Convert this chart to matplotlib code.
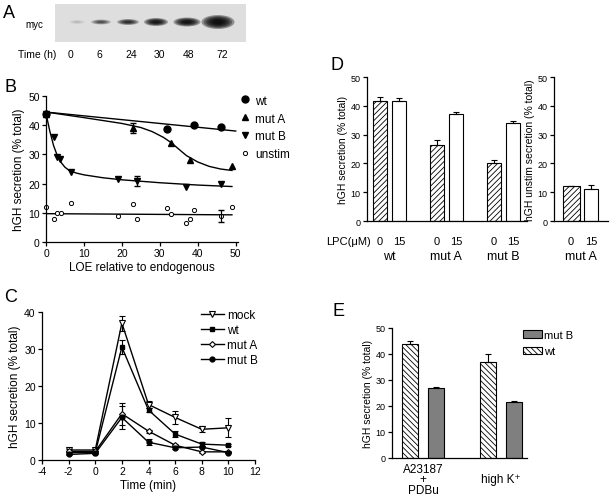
import numpy as np
import matplotlib.pyplot as plt
import matplotlib.transforms as mtransforms
from matplotlib.patches import Ellipse, Rectangle, Patch
from matplotlib.lines import Line2D

plt.rcParams['font.family'] = ['Liberation Sans', 'DejaVu Sans']
plt.rcParams['hatch.linewidth'] = 0.6
plt.rcParams['axes.linewidth'] = 0.9
plt.rcParams['axes.unicode_minus'] = False

# ---- A: blot ----
blot_times = ['0', '6', '24', '30', '48', '72']
band_level = [0.08, 0.45, 0.65, 0.85, 0.9, 1.0]

# ---- B: secretion vs level of expression ----
b_wt_x = [0, 32, 39, 46]
b_wt_y = [44, 38.7, 40, 39.3]
b_mutA_x = [0, 23, 33, 38, 49]
b_mutA_y = [44, 39, 34, 28, 26]
b_mutB_x = [0, 2, 2.8, 3.6, 6.5, 19, 24, 37, 46]
b_mutB_y = [44, 36, 29, 28.5, 24, 21.5, 21, 19, 20]
b_unst_x = [0, 2, 3, 4, 6.5, 19, 23, 24, 32, 33, 37, 38, 39, 46, 49]
b_unst_y = [12, 8, 10, 10, 13.5, 9, 13, 8, 11.5, 9.5, 6.5, 8, 11, 8.8, 12]
# fitted curves
fit_wt_x = [0, 50]
fit_wt_y = [44.5, 38]
fit_mutA_x = [0, 10, 20, 25, 28, 31, 33, 35, 37, 40, 43, 46, 49]
fit_mutA_y = [44.5, 42.6, 40.6, 39.2, 37.8, 35.8, 34, 31.8, 29.6, 27.4, 25.9, 25, 24.5]
fit_mutB_x = [0, 1, 2, 3, 4, 5, 6, 8, 10, 15, 20, 30, 40, 49]
fit_mutB_y = [44, 38, 33, 29.5, 27.2, 25.6, 24.6, 23.6, 23, 22, 21.3, 20.3, 19.5, 19]
fit_unst_x = [0, 49]
fit_unst_y = [9.7, 9.3]

# ---- C: time course ----
c_t = [-2, 0, 2, 4, 6, 8, 10]
c_mock = [2.7, 2.7, 37, 15, 11.5, 8.3, 8.7]
c_mock_err = [0.3, 0.3, 2, 1, 1.8, 0.8, 2.6]
c_wt = [2, 2, 30.5, 13.5, 7, 4.3, 4]
c_wt_err = [0.2, 0.2, 1.8, 0.5, 0.8, 0.5, 0.2]
c_mutA = [2.3, 2.3, 12.5, 7.8, 4, 2.2, 2.2]
c_mutA_err = [0.2, 0.2, 3, 0.4, 0.3, 0.3, 0.3]
c_mutB = [1.5, 1.8, 11.5, 4.8, 3.3, 3.5, 2]
c_mutB_err = [0.2, 0.2, 3, 0.8, 0.4, 0.3, 0.2]

# ---- D: LPC ----
d_groups = ['wt', 'mut A', 'mut B']
d_lpc = ['0', '15']
d_0 = [41.5, 26.3, 20.3]
d_0_err = [1.5, 1.8, 1.0]
d_15 = [41.8, 37, 34.2]
d_15_err = [1.0, 0.8, 0.5]
d_unst = [12, 11.2]
d_unst_err = [0.3, 1.3]

# ---- E: stimuli ----
e_stim = ['A23187\n+\nPDBu', 'high K\u207a']
e_wt = [43.7, 37]
e_wt_err = [1.3, 3]
e_mutB = [27, 21.5]
e_mutB_err = [0.3, 0.3]

W, H = 610, 502
fig = plt.figure(figsize=(6.1, 5.02), dpi=100)


def box(l, t, r, b):
    return [l / W, 1 - b / H, (r - l) / W, (b - t) / H]


def ftext(x, y, s, **kw):
    fig.text(x / W, 1 - y / H, s, **kw)


def style(ax, fs):
    for s in ['top', 'right']:
        ax.spines[s].set_visible(False)
    ax.tick_params(labelsize=fs, width=0.9, length=3, pad=1.5)


# panel A
axA = fig.add_axes(box(55, 5, 246, 43))
axA.set_xlim(55, 246)
axA.set_ylim(43, 5)
axA.axis('off')
axA.add_patch(Rectangle((55, 5), 191, 38, color='#dedede', lw=0))
lane_x = [77, 101, 128, 156, 187, 218]
band_w = [16, 20, 22, 24, 27, 33]
band_h = [4, 5, 6, 8, 9, 14]
for k in range(len(blot_times)):
    for s in np.linspace(1, 0.3, 6):
        axA.add_patch(Ellipse((lane_x[k], 23), band_w[k] * s, band_h[k] * s,
                              color='black', alpha=band_level[k] * 0.35, lw=0))
ftext(3, 14, 'A', fontsize=13, va='center')
ftext(25, 25, 'myc', fontsize=7, va='center')
ftext(18, 55, 'Time (h)', fontsize=7.5, va='center')
for k, t in enumerate(blot_times):
    ftext([71, 99, 131, 159, 189, 222][k], 55, t, fontsize=7.5, va='center', ha='center')

# panel B
axB = fig.add_axes(box(46, 97, 238, 243))
style(axB, 7.5)
axB.set_xlim(0, 50.6)
axB.set_ylim(0, 50)
axB.set_xticks(range(0, 51, 10))
axB.set_yticks(range(0, 51, 10))
for fx, fy in [(fit_wt_x, fit_wt_y), (fit_mutA_x, fit_mutA_y),
               (fit_mutB_x, fit_mutB_y), (fit_unst_x, fit_unst_y)]:
    axB.plot(fx, fy, color='black', lw=1)
h1, = axB.plot(b_wt_x, b_wt_y, 'o', color='black', ms=5, clip_on=False, label='wt')
h2, = axB.plot(b_mutA_x, b_mutA_y, '^', color='black', ms=5, clip_on=False, label='mut A')
h3, = axB.plot(b_mutB_x, b_mutB_y, 'v', color='black', ms=5, clip_on=False, label='mut B')
h4, = axB.plot(b_unst_x, b_unst_y, 'o', mfc='white', mec='black', mew=0.7, ms=3,
               clip_on=False, label='unstim')
axB.errorbar([23], [39], yerr=[1.6], fmt='none', ecolor='black', elinewidth=0.9, capsize=2.5)
axB.errorbar([24], [21], yerr=[1.7], fmt='none', ecolor='black', elinewidth=0.9, capsize=2.5)
axB.errorbar([46], [8.8], yerr=[2], fmt='none', ecolor='black', elinewidth=0.9, capsize=2.5)
axB.set_xlabel('LOE relative to endogenous', fontsize=8.5, labelpad=2)
axB.set_ylabel('hGH secretion (% total)', fontsize=8.5, labelpad=2)
axB.legend(handles=[h1, h2, h3, h4], loc='upper left', bbox_to_anchor=(0.98, 1.05),
           frameon=False, fontsize=8.5, handlelength=0.8, handletextpad=0.5,
           labelspacing=0.5, borderpad=0)
ftext(4, 88, 'B', fontsize=13, va='center')

# panel C
axC = fig.add_axes(box(42, 313, 255, 461))
style(axC, 7.5)
axC.set_xlim(-4, 12)
axC.set_ylim(0, 40)
axC.set_xticks(range(-4, 13, 2))
axC.set_yticks(range(0, 41, 10))
ekw = dict(color='black', lw=1, elinewidth=0.8, capsize=2.5, capthick=0.8)
mk = [dict(marker='v', ms=4.5, mfc='white', mec='black', mew=0.8),
      dict(marker='s', ms=3.5, mfc='black', mec='black'),
      dict(marker='D', ms=3, mfc='white', mec='black', mew=0.8),
      dict(marker='o', ms=3.5, mfc='black', mec='black')]
series_c = [(c_mock, c_mock_err, 'mock'), (c_wt, c_wt_err, 'wt'),
            (c_mutA, c_mutA_err, 'mut A'), (c_mutB, c_mutB_err, 'mut B')]
handles_c = []
for (yv, ye, lab), m in zip(series_c, mk):
    axC.errorbar(c_t, yv, yerr=ye, **m, **ekw)
    handles_c.append(Line2D([], [], color='black', lw=1, label=lab, **m))
axC.set_xlabel('Time (min)', fontsize=8.5, labelpad=2)
axC.set_ylabel('hGH secretion (% total)', fontsize=8.5, labelpad=2)
axC.legend(handles=handles_c, loc='upper left', bbox_to_anchor=(0.72, 1.06),
           frameon=False, fontsize=8.5, handlelength=1.9, handletextpad=0.3,
           labelspacing=0.25, borderpad=0)
ftext(4, 298, 'C', fontsize=13, va='center')

# panel D
hatch_d = '//////'
axD = fig.add_axes(box(367, 78, 527, 222))
style(axD, 6.5)
xd = np.array([0, 3, 6])
axD.bar(xd, d_0, width=0.7, color='white', edgecolor='black', hatch=hatch_d, lw=0.8)
axD.bar(xd + 1, d_15, width=0.7, color='white', edgecolor='black', lw=0.8)
axD.errorbar(xd, d_0, yerr=[np.zeros(3), d_0_err], fmt='none', ecolor='black',
             elinewidth=0.8, capsize=2.5, capthick=0.8)
axD.errorbar(xd + 1, d_15, yerr=[np.zeros(3), d_15_err], fmt='none', ecolor='black',
             elinewidth=0.8, capsize=2.5, capthick=0.8)
axD.set_xlim(-0.68, 7.74)
axD.set_ylim(0, 50)
axD.set_yticks(range(0, 51, 10))
axD.set_xticks([])
trD = mtransforms.blended_transform_factory(axD.transData, axD.transAxes)
for x0 in xd:
    for j, lab in enumerate(d_lpc):
        axD.text(x0 + j, -0.14, lab, transform=trD, ha='center', va='center', fontsize=8)
axD.set_ylabel('hGH secretion (% total)', fontsize=7.5, labelpad=2)
axD.text(-0.45, -0.14, 'LPC(\u03bcM)', transform=trD, ha='right', va='center', fontsize=8)
for g, x0 in zip(d_groups, xd):
    axD.text(x0 + 0.5, -0.245, g, transform=trD, ha='center', va='center', fontsize=9)

axD2 = fig.add_axes(box(554, 78, 608, 222))
style(axD2, 6.5)
axD2.bar([0, 1], d_unst, width=[0.85, 0.7], color='white', edgecolor='black', lw=0.8,
         hatch=[hatch_d, ''])
axD2.errorbar([0, 1], d_unst, yerr=[[0, 0], d_unst_err], fmt='none', ecolor='black',
              elinewidth=0.8, capsize=2.5, capthick=0.8)
axD2.set_xlim(-0.85, 1.85)
axD2.set_ylim(0, 50)
axD2.set_yticks(range(0, 51, 10))
axD2.set_xticks([])
trD2 = mtransforms.blended_transform_factory(axD2.transData, axD2.transAxes)
for j, lab in enumerate(d_lpc):
    axD2.text(j, -0.14, lab, transform=trD2, ha='center', va='center', fontsize=8)
axD2.set_ylabel('hGH unstim secretion (% total)', fontsize=7.5, labelpad=2)
axD2.text(0.5, -0.245, 'mut A', transform=trD2, ha='center', va='center', fontsize=9)
ftext(330, 65, 'D', fontsize=13, va='center')

# panel E
hatch_e = '\\\\\\\\\\\\'
grey = '#7f7f7f'
axE = fig.add_axes(box(392, 329, 527, 459))
style(axE, 6.5)
xe = np.array([0, 3])
axE.bar(xe, e_wt, width=0.62, color='white', edgecolor='black', hatch=hatch_e, lw=0.8)
axE.bar(xe + 1, e_mutB, width=0.62, color=grey, edgecolor='black', lw=0.8)
axE.errorbar(xe, e_wt, yerr=[np.zeros(2), e_wt_err], fmt='none', ecolor='black',
             elinewidth=0.8, capsize=2.5, capthick=0.8)
axE.errorbar(xe + 1, e_mutB, yerr=[np.zeros(2), e_mutB_err], fmt='none', ecolor='black',
             elinewidth=0.8, capsize=2.5, capthick=0.8)
axE.set_xlim(-0.69, 4.5)
axE.set_ylim(0, 50)
axE.set_yticks(range(0, 51, 10))
axE.set_xticks([])
axE.set_ylabel('hGH secretion (% total)', fontsize=7.5, labelpad=2)
trE = mtransforms.blended_transform_factory(axE.transData, axE.transAxes)
for lab, x0 in zip(e_stim, xe):
    axE.text(x0 + 0.5, -0.165, lab, transform=trE, ha='center', va='center',
             fontsize=8.5, linespacing=0.85)
axE.legend(handles=[Patch(facecolor=grey, edgecolor='black', lw=0.8, label='mut B'),
                    Patch(facecolor='white', edgecolor='black', lw=0.8, hatch=hatch_e,
                          label='wt')],
           loc='upper left', bbox_to_anchor=(0.93, 1.03), frameon=False, fontsize=8,
           handlelength=1.7, handleheight=0.7, handletextpad=0.2, labelspacing=0.6,
           borderpad=0)
ftext(333, 311, 'E', fontsize=13, va='center')

fig.savefig('out.png', dpi=100)
